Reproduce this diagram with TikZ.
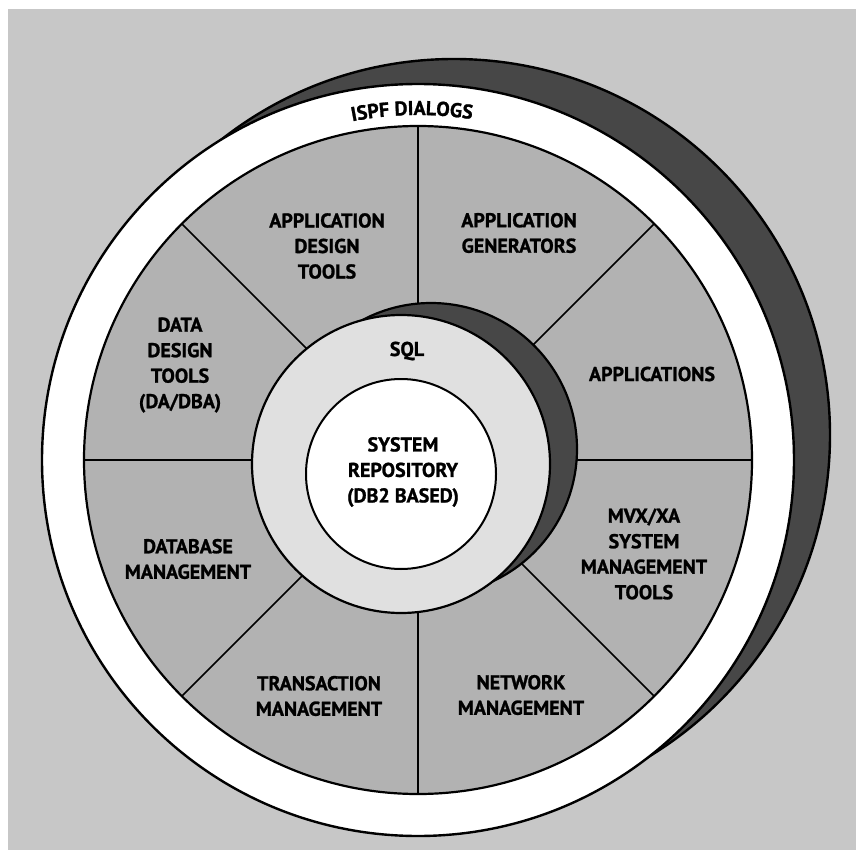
\documentclass[tikz,border=0pt]{standalone}
\usepackage{fontspec}
\setmainfont{PT Sans}[BoldFeatures={FakeBold=1.2}]
\usetikzlibrary{decorations.text}
\definecolor{paper}{gray}{0.78}
\definecolor{disk}{gray}{0.70}
\definecolor{sqlring}{gray}{0.88}
\definecolor{shade}{gray}{0.28}
\tikzset{lbl/.style={align=center, inner sep=0pt, font=\bfseries\fontsize{20}{25.5}\selectfont}}

\begin{document}
\begin{tikzpicture}[x=1pt,y=1pt]
  \useasboundingbox (0,0) rectangle (856,-850);
  \fill[paper] (8,-9) rectangle (856,-850);
  \coordinate (c) at (418,-460);
  \coordinate (s) at (401,-464);
  \draw[line width=2.4pt, fill=shade] (454,-435) circle[radius=376pt];
  \draw[line width=2.4pt, fill=white] (c) circle[radius=376pt];
  \draw[line width=2.2pt, fill=disk] (c) circle[radius=334pt];
  \foreach \a in {0,45,...,315}
    \draw[line width=1.6pt] (c) -- ++(\a:334pt);
  \draw[line width=2.2pt, fill=shade] (431,-449) circle[radius=146pt];
  \draw[line width=2.2pt, fill=sqlring] (s) circle[radius=149pt];
  \draw[line width=2pt, fill=white] (401,-474) circle[radius=95pt];

  \path (c) ++(111:345pt) coordinate (arcstart);
  \path[decorate, decoration={text along path, text align=center,
    text={|\bfseries\fontsize{20}{24}\selectfont|ISPF DIALOGS}}]
    (arcstart) arc[start angle=111, end angle=71, radius=345pt];

  \node[lbl] (appdesign) at (327,-246) {APPLICATION\\DESIGN\\TOOLS};
  \node[lbl] (appgen) at (519,-233) {APPLICATION\\GENERATORS};
  \node[lbl] (datadesign) at (180,-365) {DATA\\DESIGN\\TOOLS\\(DA/DBA)};
  \node[lbl] (apps) at (652,-374) {APPLICATIONS};
  \node[lbl] (sql) at (407,-351) {SQL};
  \node[lbl] (repo) at (403,-472) {SYSTEM\\REPOSITORY\\(DB2 BASED)};
  \node[lbl] (dbmgmt) at (188,-559) {DATABASE\\MANAGEMENT};
  \node[lbl] (mvs) at (644,-554) {MVX/XA\\SYSTEM\\MANAGEMENT\\TOOLS};
  \node[lbl] (txmgmt) at (319,-696) {TRANSACTION\\MANAGEMENT};
  \node[lbl] (netmgmt) at (521,-695) {NETWORK\\MANAGEMENT};
\end{tikzpicture}
\end{document}
